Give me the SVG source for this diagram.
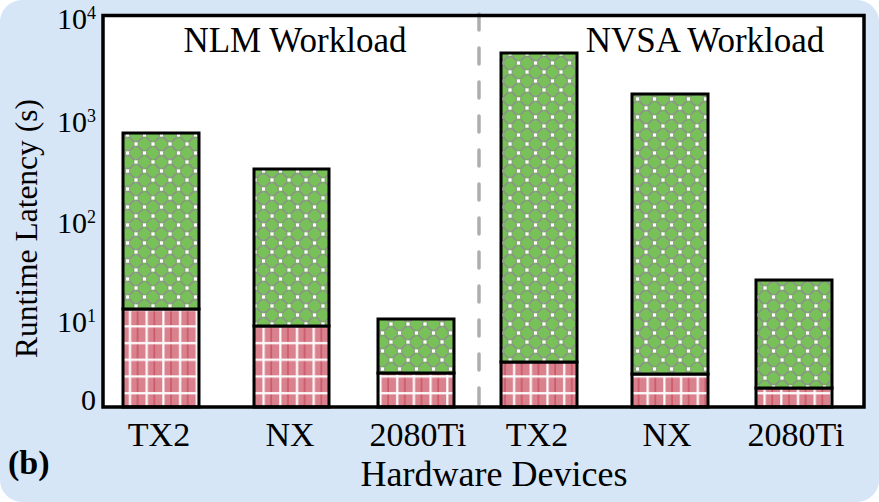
<svg xmlns="http://www.w3.org/2000/svg" width="879" height="502" viewBox="0 0 879 502">
  <style>
    .lbl { font-family: "Liberation Serif", "Times New Roman", "DejaVu Serif", serif; fill: #000; }
    .tick { font-size: 30px; text-anchor: end; }
    .dev { font-size: 34px; text-anchor: middle; }
    .title { font-size: 35px; text-anchor: middle; }
    .bar { stroke: #000; stroke-width: 3; }
    .lat { fill: url(#latency); }
    .ovh { fill: url(#overhead); }
  </style>
  <defs>
    <!-- green dotted-circle lattice -->
    <pattern id="latency" patternUnits="userSpaceOnUse" width="17" height="18">
      <rect width="17" height="18" fill="#78c058"/>
      <g fill="none" stroke="#8e8e8e" stroke-width="1.5" stroke-dasharray="1.6 1.1">
        <circle cx="8.5" cy="0" r="6.4"/>
        <circle cx="8.5" cy="18" r="6.4"/>
        <circle cx="0" cy="9" r="6.4"/>
        <circle cx="17" cy="9" r="6.4"/>
      </g>
      <g fill="#fff">
        <rect x="-1.6" y="-1.6" width="3.2" height="3.2"/>
        <rect x="15.4" y="-1.6" width="3.2" height="3.2"/>
        <rect x="-1.6" y="16.4" width="3.2" height="3.2"/>
        <rect x="15.4" y="16.4" width="3.2" height="3.2"/>
        <rect x="6.9" y="7.4" width="3.2" height="3.2"/>
      </g>
    </pattern>
    <!-- red plaid -->
    <pattern id="overhead" patternUnits="userSpaceOnUse" width="16.7" height="16.7">
      <rect width="16.7" height="16.7" fill="#d9828e"/>
      <rect x="3.5" y="0" width="1" height="16.7" fill="#c43c50"/>
      <rect x="12" y="0" width="2.2" height="16.7" fill="#fff"/>
      <rect x="0" y="8" width="16.7" height="2.2" fill="#fff"/>
    </pattern>
  </defs>

  <!-- panel background -->
  <rect x="0" y="0" width="879" height="502" rx="22" fill="#d6e6f7"/>
  <!-- plot area -->
  <rect x="103" y="15.5" width="761" height="391.5" fill="#fff"/>

  <!-- workload separator -->
  <g id="connectors">
    <line x1="479" y1="14" x2="479" y2="405" stroke="#adadad" stroke-width="3.5" stroke-linecap="round" stroke-dasharray="16 18"/>
  </g>

  <!-- NLM workload bars -->
  <g id="nlm-tx2">
    <rect class="bar ovh" x="123" y="309" width="76" height="98"/>
    <rect class="bar lat" x="123" y="133" width="76" height="176"/>
  </g>
  <g id="nlm-nx">
    <rect class="bar ovh" x="254" y="326" width="75" height="81"/>
    <rect class="bar lat" x="254" y="169" width="75" height="157"/>
  </g>
  <g id="nlm-2080ti">
    <rect class="bar ovh" x="378" y="373" width="76" height="34"/>
    <rect class="bar lat" x="378" y="319" width="76" height="54"/>
  </g>

  <!-- NVSA workload bars -->
  <g id="nvsa-tx2">
    <rect class="bar ovh" x="501" y="362" width="76" height="45"/>
    <rect class="bar lat" x="501" y="53" width="76" height="309"/>
  </g>
  <g id="nvsa-nx">
    <rect class="bar ovh" x="632" y="374" width="76" height="33"/>
    <rect class="bar lat" x="632" y="94" width="76" height="280"/>
  </g>
  <g id="nvsa-2080ti">
    <rect class="bar ovh" x="756" y="388" width="76" height="19"/>
    <rect class="bar lat" x="756" y="280" width="76" height="108"/>
  </g>

  <!-- plot frame -->
  <rect x="103" y="15.5" width="761" height="391.5" fill="none" stroke="#000" stroke-width="3.5"/>

  <g font-family="'Liberation Serif', 'Times New Roman', 'DejaVu Serif', serif">
    <!-- workload titles -->
    <text class="lbl title" x="295" y="52">NLM Workload</text>
    <text class="lbl title" x="705" y="52">NVSA Workload</text>

    <!-- y tick labels -->
    <g class="lbl tick">
      <text x="96" y="29">10<tspan font-size="18" dy="-10">4</tspan></text>
      <text x="96" y="132">10<tspan font-size="18" dy="-10">3</tspan></text>
      <text x="96" y="233">10<tspan font-size="18" dy="-10">2</tspan></text>
      <text x="96" y="332">10<tspan font-size="18" dy="-10">1</tspan></text>
      <text x="96" y="410">0</text>
    </g>

    <!-- device labels -->
    <g class="lbl dev">
      <text x="159" y="446">TX2</text>
      <text x="290" y="446">NX</text>
      <text x="418" y="446">2080Ti</text>
      <text x="537" y="446">TX2</text>
      <text x="667" y="446">NX</text>
      <text x="796" y="446">2080Ti</text>
    </g>

    <!-- axis titles -->
    <text class="lbl" x="494" y="486" font-size="36" text-anchor="middle">Hardware Devices</text>
    <text class="lbl" transform="translate(37 228.5) rotate(-90)" font-size="31.5" text-anchor="middle">Runtime Latency (s)</text>
    <text class="lbl" x="8" y="474" font-size="34" font-weight="bold">(b)</text>
  </g>
</svg>
